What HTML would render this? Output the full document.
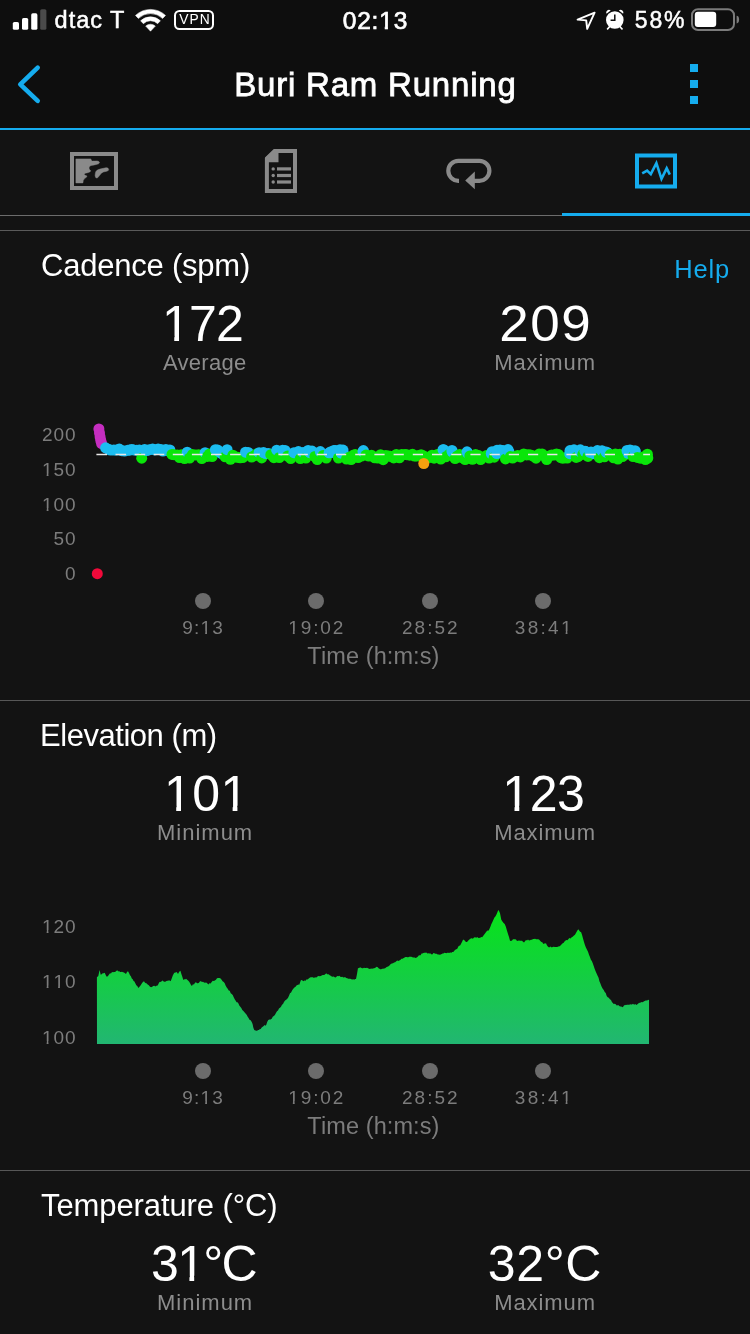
<!DOCTYPE html>
<html><head><meta charset="utf-8"><title>Buri Ram Running</title>
<style>
*{margin:0;padding:0;box-sizing:border-box}
html,body{width:750px;height:1334px;overflow:hidden;background:#131313;font-family:"Liberation Sans", sans-serif;-webkit-font-smoothing:antialiased}
body{position:relative}
#r{position:absolute;left:0;top:0;width:750px;height:1334px;will-change:transform}
</style></head><body>
<div id="r"><div style="position:absolute;left:0px;top:0px;width:750px;height:128px;background:#0e0e0e;"></div><div style="position:absolute;left:0px;top:128px;width:750px;height:2px;background:#15acee;"></div><div style="position:absolute;left:0px;top:130px;width:750px;height:1204px;background:#131313;"></div><svg style="position:absolute;left:0;top:0" width="750" height="130" viewBox="0 0 750 130"><rect x="12.8" y="22" width="6.2" height="7.800000000000001" rx="1.6" fill="#fff"/><rect x="22" y="18" width="6.2" height="11.8" rx="1.6" fill="#fff"/><rect x="31.2" y="13.3" width="6.2" height="16.5" rx="1.6" fill="#fff"/><rect x="40.2" y="9.2" width="6.2" height="20.6" rx="1.6" fill="#4a4a4a"/><path d="M135.49,15.39 A21.8,21.8 0 0 1 165.51,15.39 L162.62,18.43 A17.6,17.6 0 0 0 138.38,18.43 Z M140.59,20.75 A14.4,14.4 0 0 1 160.41,20.75 L157.66,23.66 A10.4,10.4 0 0 0 143.34,23.66 Z M150.5,31.2 L145.68,26.12 A7.0,7.0 0 0 1 155.32,26.12 Z" fill="#fff" stroke="#fff" stroke-width="0.5" stroke-linejoin="round"/><rect x="175" y="11" width="38" height="18" rx="4.5" fill="none" stroke="#fff" stroke-width="2"/><path d="M594.6,12.6 L577.6,19.6 L586.2,20.4 L587.2,28.8 Z" fill="none" stroke="#fff" stroke-width="1.9" stroke-linejoin="round"/><circle cx="614.8" cy="20" r="8.8" fill="#fff"/><path d="M606.49,13.81 A2.75,2.75 0 0 1 610.73,10.47 Z M623.11,13.81 A2.75,2.75 0 0 0 618.87,10.47 Z" fill="#fff"/><path d="M609.4,27 L607.6,28.8 M620.2,27 L622,28.8" stroke="#fff" stroke-width="1.7" stroke-linecap="round"/><path d="M614.8,14.6 L614.8,20.2 L610.6,20.2" fill="none" stroke="#0e0e0e" stroke-width="1.5"/><rect x="692" y="9.2" width="42" height="20.8" rx="6" fill="none" stroke="#7b7b7b" stroke-width="2"/><rect x="694.8" y="11.8" width="21.4" height="15.2" rx="3" fill="#fff"/><path d="M736.6,15.8 A2.5,3.8 0 0 1 736.6,23.4 Z" fill="#7b7b7b"/><path d="M37.7,67.6 L20.3,84.3 L37.7,100.8" fill="none" stroke="#15acee" stroke-width="4.6" stroke-linecap="round" stroke-linejoin="round"/><rect x="690" y="64" width="8" height="8" fill="#15acee"/><rect x="690" y="80" width="8" height="8" fill="#15acee"/><rect x="690" y="96" width="8" height="8" fill="#15acee"/></svg><div style="position:absolute;left:54.60px;top:8.91px;font-size:23.5px;line-height:23.5px;font-weight:400;color:#fff;letter-spacing:1.0px;-webkit-text-stroke:0.5px #fff;white-space:nowrap">dtac T</div><div style="position:absolute;left:-5.50px;top:13.22px;width:400px;text-align:center;font-size:13.8px;line-height:13.8px;font-weight:400;color:#fff;letter-spacing:1.0px;text-indent:1.0px;white-space:nowrap">VPN</div><div style="position:absolute;left:175.00px;top:8.86px;width:400px;text-align:center;font-size:24.5px;line-height:24.5px;font-weight:400;color:#fff;letter-spacing:0.8px;text-indent:0.8px;-webkit-text-stroke:0.7px #fff;white-space:nowrap">02:<span style="display:inline-block;letter-spacing:0;text-indent:0;margin-right:0.8px;clip-path:polygon(-20px 0,33.63px 0,33.63px 16.76px,8.76px 16.76px,8.76px 29.50px,5.58px 29.50px,5.58px 16.76px,-20px 16.76px)">1</span>3</div><div style="position:absolute;left:634.70px;top:8.93px;font-size:23px;line-height:23px;font-weight:400;color:#fff;letter-spacing:1.9px;-webkit-text-stroke:0.5px #fff;white-space:nowrap">58%</div><div style="position:absolute;left:175.00px;top:68.07px;width:400px;text-align:center;font-size:33px;line-height:33px;font-weight:400;color:#fff;letter-spacing:0.8px;text-indent:0.8px;-webkit-text-stroke:0.8px #fff;white-space:nowrap">Buri Ram Running</div><svg style="position:absolute;left:0;top:0" width="750" height="230" viewBox="0 0 750 230"><rect x="72" y="154" width="44" height="34" fill="none" stroke="#8a8a8a" stroke-width="4"/><path d="M75.9,158.9 L90.8,158.9 L91.3,160.2 L92.3,161.1 L94.4,161.1 L97.2,161 L98.8,161.5 L99.5,162.5 L98.9,163.6 L97.8,164.1 L94.4,164.9 L91,165.5 L89.5,166.5 L88.9,168 L89.5,169.6 L90.6,170.6 L90.2,171.7 L87.7,172.7 L85.3,173.2 L84.1,174.2 L85,175.3 L86.9,175.9 L86.6,177.1 L84.6,178.6 L83.3,180.3 L82.9,182.9 L75.9,182.9 Z M95.1,175.9 L95.3,173.6 L95.9,171.6 L97.3,170.1 L100,169.1 L103.4,168.3 L106.2,167.7 L107.9,168.1 L108.7,169.4 L108.2,170.6 L106.7,171.2 L103.4,172 L101.2,173.3 L99.5,175.6 L97.6,177.8 L96,177.9 Z" fill="#8a8a8a" stroke="#8a8a8a" stroke-width="0.5" stroke-linejoin="round"/><path d="M266.9,158.5 L274.6,151 L295,151 L295,191 L266.9,191 Z" fill="none" stroke="#8a8a8a" stroke-width="4" stroke-linejoin="miter"/><path d="M265,158 L275,149 L278.5,149 L278.5,162.3 L265,162.3 Z" fill="#8a8a8a"/><circle cx="273.2" cy="168.9" r="1.7" fill="#8a8a8a"/><rect x="277" y="167.3" width="14" height="3.2" fill="#8a8a8a"/><circle cx="273.2" cy="175.5" r="1.7" fill="#8a8a8a"/><rect x="277" y="173.9" width="14" height="3.2" fill="#8a8a8a"/><circle cx="273.2" cy="182" r="1.7" fill="#8a8a8a"/><rect x="277" y="180.4" width="14" height="3.2" fill="#8a8a8a"/><path d="M459,180.8 L458.3,180.8 A10,10 0 0 1 458.3,160.8 L479.4,160.8 A10,10 0 0 1 479.4,180.8 L473,180.8" fill="none" stroke="#8a8a8a" stroke-width="4.2"/><path d="M465.2,180.6 L474.8,171.6 L474.8,189.2 Z" fill="#8a8a8a"/><rect x="637" y="155.5" width="38" height="31" fill="none" stroke="#15acee" stroke-width="4"/><path d="M642.2,173.4 L647.1,170.6 L650.8,174.2 L656.4,163.2 L661.5,178.8 L666.7,168.3 L669.8,174.6" fill="none" stroke="#15acee" stroke-width="2.6" stroke-linejoin="miter" stroke-miterlimit="4"/></svg><div style="position:absolute;left:0px;top:215px;width:562px;height:1px;background:#6c6c6c;"></div><div style="position:absolute;left:562px;top:213px;width:188px;height:3px;background:#15acee;"></div><div style="position:absolute;left:0px;top:230px;width:750px;height:1px;background:#5a5a5a;"></div><div style="position:absolute;left:0px;top:700px;width:750px;height:1px;background:#575757;"></div><div style="position:absolute;left:0px;top:1170px;width:750px;height:1px;background:#575757;"></div><div style="position:absolute;left:41.00px;top:250.16px;font-size:31px;line-height:31px;font-weight:400;color:#fff;letter-spacing:-0.22px;white-space:nowrap">Cadence (spm)</div><div style="position:absolute;left:674.30px;top:257.31px;font-size:25.5px;line-height:25.5px;font-weight:400;color:#15acee;letter-spacing:0.8px;white-space:nowrap">Help</div><div style="position:absolute;left:2.95px;top:299.18px;width:400px;text-align:center;font-size:50px;line-height:50px;font-weight:400;color:#fff;letter-spacing:-0.8px;text-indent:-0.8px;white-space:nowrap"><span style="display:inline-block;letter-spacing:0;text-indent:0;margin-right:-0.8px;clip-path:polygon(-20px 0,47.81px 0,47.81px 36.70px,17.02px 36.70px,17.02px 55.00px,12.24px 55.00px,12.24px 36.70px,-20px 36.70px)">1</span>72</div><div style="position:absolute;left:344.60px;top:299.18px;width:400px;text-align:center;font-size:50px;line-height:50px;font-weight:400;color:#fff;letter-spacing:1.4px;text-indent:1.4px;transform:scaleX(1.06);transform-origin:200.0px 0;white-space:nowrap">209</div><div style="position:absolute;left:4.60px;top:352.38px;width:400px;text-align:center;font-size:22px;line-height:22px;font-weight:400;color:#8d8d8d;letter-spacing:0.3px;text-indent:0.3px;white-space:nowrap">Average</div><div style="position:absolute;left:344.60px;top:352.38px;width:400px;text-align:center;font-size:22px;line-height:22px;font-weight:400;color:#8d8d8d;letter-spacing:0.9px;text-indent:0.9px;white-space:nowrap">Maximum</div><div style="position:absolute;left:195.0px;top:592.9px;width:16.2px;height:16.2px;border-radius:50%;background:#6b6b6b"></div><div style="position:absolute;left:2.60px;top:617.92px;width:400px;text-align:center;font-size:19px;line-height:19px;font-weight:400;color:#7c7c7c;letter-spacing:1.2px;text-indent:1.2px;white-space:nowrap">9:<span style="display:inline-block;letter-spacing:0;text-indent:0;margin-right:1.2px;clip-path:polygon(-20px 0,30.57px 0,30.57px 13.45px,6.47px 13.45px,6.47px 24.00px,4.65px 24.00px,4.65px 13.45px,-20px 13.45px)">1</span>3</div><div style="position:absolute;left:308.2px;top:592.9px;width:16.2px;height:16.2px;border-radius:50%;background:#6b6b6b"></div><div style="position:absolute;left:115.80px;top:617.92px;width:400px;text-align:center;font-size:19px;line-height:19px;font-weight:400;color:#7c7c7c;letter-spacing:1.9px;text-indent:1.9px;white-space:nowrap"><span style="display:inline-block;letter-spacing:0;text-indent:0;margin-right:1.9px;clip-path:polygon(-20px 0,30.57px 0,30.57px 13.45px,6.47px 13.45px,6.47px 24.00px,4.65px 24.00px,4.65px 13.45px,-20px 13.45px)">1</span>9:02</div><div style="position:absolute;left:421.7px;top:592.9px;width:16.2px;height:16.2px;border-radius:50%;background:#6b6b6b"></div><div style="position:absolute;left:229.80px;top:617.92px;width:400px;text-align:center;font-size:19px;line-height:19px;font-weight:400;color:#7c7c7c;letter-spacing:2.0px;text-indent:2.0px;white-space:nowrap">28:52</div><div style="position:absolute;left:535.1px;top:592.9px;width:16.2px;height:16.2px;border-radius:50%;background:#6b6b6b"></div><div style="position:absolute;left:343.20px;top:617.92px;width:400px;text-align:center;font-size:19px;line-height:19px;font-weight:400;color:#7c7c7c;letter-spacing:2.3px;text-indent:2.3px;white-space:nowrap">38:4<span style="display:inline-block;letter-spacing:0;text-indent:0;margin-right:2.3px;clip-path:polygon(-20px 0,30.57px 0,30.57px 13.45px,6.47px 13.45px,6.47px 24.00px,4.65px 24.00px,4.65px 13.45px,-20px 13.45px)">1</span></div><div style="position:absolute;left:173.40px;top:644.91px;width:400px;text-align:center;font-size:23.5px;line-height:23.5px;font-weight:400;color:#7c7c7c;letter-spacing:0.1px;text-indent:0.1px;white-space:nowrap">Time (h:m:s)</div><div style="position:absolute;right:673.60px;top:424.92px;font-size:19px;line-height:19px;font-weight:400;color:#7c7c7c;letter-spacing:0.9px;white-space:nowrap;text-align:right">200</div><div style="position:absolute;right:673.60px;top:460.22px;font-size:19px;line-height:19px;font-weight:400;color:#7c7c7c;letter-spacing:0.9px;white-space:nowrap;text-align:right"><span style="display:inline-block;letter-spacing:0;text-indent:0;margin-right:0.9px;clip-path:polygon(-20px 0,30.57px 0,30.57px 13.45px,6.47px 13.45px,6.47px 24.00px,4.65px 24.00px,4.65px 13.45px,-20px 13.45px)">1</span>50</div><div style="position:absolute;right:673.60px;top:494.92px;font-size:19px;line-height:19px;font-weight:400;color:#7c7c7c;letter-spacing:0.9px;white-space:nowrap;text-align:right"><span style="display:inline-block;letter-spacing:0;text-indent:0;margin-right:0.9px;clip-path:polygon(-20px 0,30.57px 0,30.57px 13.45px,6.47px 13.45px,6.47px 24.00px,4.65px 24.00px,4.65px 13.45px,-20px 13.45px)">1</span>00</div><div style="position:absolute;right:673.60px;top:529.12px;font-size:19px;line-height:19px;font-weight:400;color:#7c7c7c;letter-spacing:0.9px;white-space:nowrap;text-align:right">50</div><div style="position:absolute;right:673.60px;top:564.22px;font-size:19px;line-height:19px;font-weight:400;color:#7c7c7c;letter-spacing:0.9px;white-space:nowrap;text-align:right">0</div><div style="position:absolute;left:40.10px;top:720.16px;font-size:31px;line-height:31px;font-weight:400;color:#fff;letter-spacing:-0.47px;white-space:nowrap">Elevation (m)</div><div style="position:absolute;left:6.10px;top:769.17px;width:400px;text-align:center;font-size:50px;line-height:50px;font-weight:400;color:#fff;letter-spacing:0.4px;text-indent:0.4px;white-space:nowrap"><span style="display:inline-block;letter-spacing:0;text-indent:0;margin-right:0.4px;clip-path:polygon(-20px 0,47.81px 0,47.81px 36.70px,17.02px 36.70px,17.02px 55.00px,12.24px 55.00px,12.24px 36.70px,-20px 36.70px)">1</span>0<span style="display:inline-block;letter-spacing:0;text-indent:0;margin-right:0.4px;clip-path:polygon(-20px 0,47.81px 0,47.81px 36.70px,17.02px 36.70px,17.02px 55.00px,12.24px 55.00px,12.24px 36.70px,-20px 36.70px)">1</span></div><div style="position:absolute;left:343.60px;top:769.17px;width:400px;text-align:center;font-size:50px;line-height:50px;font-weight:400;color:#fff;letter-spacing:-0.4px;text-indent:-0.4px;white-space:nowrap"><span style="display:inline-block;letter-spacing:0;text-indent:0;margin-right:-0.4px;clip-path:polygon(-20px 0,47.81px 0,47.81px 36.70px,17.02px 36.70px,17.02px 55.00px,12.24px 55.00px,12.24px 36.70px,-20px 36.70px)">1</span>23</div><div style="position:absolute;left:4.60px;top:822.38px;width:400px;text-align:center;font-size:22px;line-height:22px;font-weight:400;color:#8d8d8d;letter-spacing:1.0px;text-indent:1.0px;white-space:nowrap">Minimum</div><div style="position:absolute;left:344.60px;top:822.38px;width:400px;text-align:center;font-size:22px;line-height:22px;font-weight:400;color:#8d8d8d;letter-spacing:0.9px;text-indent:0.9px;white-space:nowrap">Maximum</div><div style="position:absolute;left:195.0px;top:1062.9px;width:16.2px;height:16.2px;border-radius:50%;background:#6b6b6b"></div><div style="position:absolute;left:2.60px;top:1087.92px;width:400px;text-align:center;font-size:19px;line-height:19px;font-weight:400;color:#7c7c7c;letter-spacing:1.2px;text-indent:1.2px;white-space:nowrap">9:<span style="display:inline-block;letter-spacing:0;text-indent:0;margin-right:1.2px;clip-path:polygon(-20px 0,30.57px 0,30.57px 13.45px,6.47px 13.45px,6.47px 24.00px,4.65px 24.00px,4.65px 13.45px,-20px 13.45px)">1</span>3</div><div style="position:absolute;left:308.2px;top:1062.9px;width:16.2px;height:16.2px;border-radius:50%;background:#6b6b6b"></div><div style="position:absolute;left:115.80px;top:1087.92px;width:400px;text-align:center;font-size:19px;line-height:19px;font-weight:400;color:#7c7c7c;letter-spacing:1.9px;text-indent:1.9px;white-space:nowrap"><span style="display:inline-block;letter-spacing:0;text-indent:0;margin-right:1.9px;clip-path:polygon(-20px 0,30.57px 0,30.57px 13.45px,6.47px 13.45px,6.47px 24.00px,4.65px 24.00px,4.65px 13.45px,-20px 13.45px)">1</span>9:02</div><div style="position:absolute;left:421.7px;top:1062.9px;width:16.2px;height:16.2px;border-radius:50%;background:#6b6b6b"></div><div style="position:absolute;left:229.80px;top:1087.92px;width:400px;text-align:center;font-size:19px;line-height:19px;font-weight:400;color:#7c7c7c;letter-spacing:2.0px;text-indent:2.0px;white-space:nowrap">28:52</div><div style="position:absolute;left:535.1px;top:1062.9px;width:16.2px;height:16.2px;border-radius:50%;background:#6b6b6b"></div><div style="position:absolute;left:343.20px;top:1087.92px;width:400px;text-align:center;font-size:19px;line-height:19px;font-weight:400;color:#7c7c7c;letter-spacing:2.3px;text-indent:2.3px;white-space:nowrap">38:4<span style="display:inline-block;letter-spacing:0;text-indent:0;margin-right:2.3px;clip-path:polygon(-20px 0,30.57px 0,30.57px 13.45px,6.47px 13.45px,6.47px 24.00px,4.65px 24.00px,4.65px 13.45px,-20px 13.45px)">1</span></div><div style="position:absolute;left:173.40px;top:1114.91px;width:400px;text-align:center;font-size:23.5px;line-height:23.5px;font-weight:400;color:#7c7c7c;letter-spacing:0.1px;text-indent:0.1px;white-space:nowrap">Time (h:m:s)</div><div style="position:absolute;right:673.60px;top:916.92px;font-size:19px;line-height:19px;font-weight:400;color:#7c7c7c;letter-spacing:0.9px;white-space:nowrap;text-align:right"><span style="display:inline-block;letter-spacing:0;text-indent:0;margin-right:0.9px;clip-path:polygon(-20px 0,30.57px 0,30.57px 13.45px,6.47px 13.45px,6.47px 24.00px,4.65px 24.00px,4.65px 13.45px,-20px 13.45px)">1</span>20</div><div style="position:absolute;right:673.60px;top:972.32px;font-size:19px;line-height:19px;font-weight:400;color:#7c7c7c;letter-spacing:0.9px;white-space:nowrap;text-align:right"><span style="display:inline-block;letter-spacing:0;text-indent:0;margin-right:0.9px;clip-path:polygon(-20px 0,30.57px 0,30.57px 13.45px,6.47px 13.45px,6.47px 24.00px,4.65px 24.00px,4.65px 13.45px,-20px 13.45px)">1</span><span style="display:inline-block;letter-spacing:0;text-indent:0;margin-right:0.9px;clip-path:polygon(-20px 0,30.57px 0,30.57px 13.45px,6.47px 13.45px,6.47px 24.00px,4.65px 24.00px,4.65px 13.45px,-20px 13.45px)">1</span>0</div><div style="position:absolute;right:673.60px;top:1027.92px;font-size:19px;line-height:19px;font-weight:400;color:#7c7c7c;letter-spacing:0.9px;white-space:nowrap;text-align:right"><span style="display:inline-block;letter-spacing:0;text-indent:0;margin-right:0.9px;clip-path:polygon(-20px 0,30.57px 0,30.57px 13.45px,6.47px 13.45px,6.47px 24.00px,4.65px 24.00px,4.65px 13.45px,-20px 13.45px)">1</span>00</div><div style="position:absolute;left:41.00px;top:1190.16px;font-size:31px;line-height:31px;font-weight:400;color:#fff;letter-spacing:-0.1px;white-space:nowrap">Temperature (°C)</div><div style="position:absolute;left:4.40px;top:1239.17px;width:400px;text-align:center;font-size:50px;line-height:50px;font-weight:400;color:#fff;letter-spacing:-1.7px;text-indent:-1.7px;white-space:nowrap">3<span style="display:inline-block;letter-spacing:0;text-indent:0;margin-right:-1.7px;clip-path:polygon(-20px 0,47.81px 0,47.81px 36.70px,17.02px 36.70px,17.02px 55.00px,12.24px 55.00px,12.24px 36.70px,-20px 36.70px)">1</span>°C</div><div style="position:absolute;left:344.60px;top:1239.17px;width:400px;text-align:center;font-size:50px;line-height:50px;font-weight:400;color:#fff;letter-spacing:0.6px;text-indent:0.6px;white-space:nowrap">32°C</div><div style="position:absolute;left:4.60px;top:1292.38px;width:400px;text-align:center;font-size:22px;line-height:22px;font-weight:400;color:#8d8d8d;letter-spacing:1.0px;text-indent:1.0px;white-space:nowrap">Minimum</div><div style="position:absolute;left:344.60px;top:1292.38px;width:400px;text-align:center;font-size:22px;line-height:22px;font-weight:400;color:#8d8d8d;letter-spacing:0.9px;text-indent:0.9px;white-space:nowrap">Maximum</div><svg style="position:absolute;left:0;top:0" width="750" height="700" viewBox="0 0 750 700"><circle cx="98.9" cy="429.0" r="5.5" fill="#c52ec0"/><circle cx="99.5" cy="433.0" r="5.5" fill="#c52ec0"/><circle cx="100.1" cy="437.0" r="5.5" fill="#c52ec0"/><circle cx="100.8" cy="440.5" r="5.5" fill="#c52ec0"/><circle cx="101.6" cy="443.5" r="5.5" fill="#c52ec0"/><circle cx="105.6" cy="447.8" r="5.5" fill="#1cbdf0"/><circle cx="108.2" cy="449.2" r="5.5" fill="#1cbdf0"/><circle cx="110.5" cy="450.1" r="5.5" fill="#1cbdf0"/><circle cx="113.8" cy="450.0" r="5.5" fill="#1cbdf0"/><circle cx="116.5" cy="450.0" r="5.5" fill="#1cbdf0"/><circle cx="119.3" cy="449.1" r="5.5" fill="#1cbdf0"/><circle cx="121.6" cy="450.7" r="5.5" fill="#1cbdf0"/><circle cx="124.5" cy="451.1" r="5.5" fill="#1cbdf0"/><circle cx="127.9" cy="450.3" r="5.5" fill="#1cbdf0"/><circle cx="129.9" cy="450.1" r="5.5" fill="#1cbdf0"/><circle cx="131.8" cy="449.4" r="5.5" fill="#1cbdf0"/><circle cx="133.7" cy="449.9" r="5.5" fill="#1cbdf0"/><circle cx="136.8" cy="450.3" r="5.5" fill="#1cbdf0"/><circle cx="139.4" cy="449.9" r="5.5" fill="#1cbdf0"/><circle cx="141.7" cy="458.2" r="5.5" fill="#0ae60a"/><circle cx="144.6" cy="449.4" r="5.5" fill="#1cbdf0"/><circle cx="146.8" cy="450.6" r="5.5" fill="#1cbdf0"/><circle cx="149.3" cy="449.8" r="5.5" fill="#1cbdf0"/><circle cx="152.6" cy="448.9" r="5.5" fill="#1cbdf0"/><circle cx="154.8" cy="449.9" r="5.5" fill="#1cbdf0"/><circle cx="158.1" cy="449.1" r="5.5" fill="#1cbdf0"/><circle cx="160.9" cy="449.5" r="5.5" fill="#1cbdf0"/><circle cx="162.9" cy="451.0" r="5.5" fill="#1cbdf0"/><circle cx="165.9" cy="449.4" r="5.5" fill="#1cbdf0"/><circle cx="167.8" cy="450.7" r="5.5" fill="#1cbdf0"/><circle cx="169.9" cy="449.9" r="5.5" fill="#1cbdf0"/><circle cx="172.0" cy="454.4" r="5.5" fill="#0ae60a"/><circle cx="174.0" cy="454.7" r="5.5" fill="#0ae60a"/><circle cx="177.4" cy="455.1" r="5.5" fill="#0ae60a"/><circle cx="179.5" cy="457.6" r="5.5" fill="#0ae60a"/><circle cx="181.5" cy="454.7" r="5.5" fill="#0ae60a"/><circle cx="184.5" cy="458.6" r="5.5" fill="#0ae60a"/><circle cx="187.2" cy="452.2" r="5.5" fill="#1cbdf0"/><circle cx="189.6" cy="458.0" r="5.5" fill="#0ae60a"/><circle cx="192.4" cy="454.6" r="5.5" fill="#0ae60a"/><circle cx="195.6" cy="454.9" r="5.5" fill="#0ae60a"/><circle cx="198.6" cy="454.7" r="5.5" fill="#0ae60a"/><circle cx="201.8" cy="458.5" r="5.5" fill="#0ae60a"/><circle cx="205.1" cy="452.7" r="5.5" fill="#1cbdf0"/><circle cx="207.4" cy="456.4" r="5.5" fill="#0ae60a"/><circle cx="209.4" cy="454.1" r="5.5" fill="#0ae60a"/><circle cx="212.1" cy="456.5" r="5.5" fill="#0ae60a"/><circle cx="215.4" cy="449.7" r="5.5" fill="#1cbdf0"/><circle cx="217.6" cy="449.9" r="5.5" fill="#1cbdf0"/><circle cx="219.7" cy="452.1" r="5.5" fill="#1cbdf0"/><circle cx="221.7" cy="453.5" r="5.5" fill="#1cbdf0"/><circle cx="225.1" cy="456.8" r="5.5" fill="#0ae60a"/><circle cx="227.1" cy="449.7" r="5.5" fill="#1cbdf0"/><circle cx="230.4" cy="459.3" r="5.5" fill="#0ae60a"/><circle cx="232.9" cy="455.2" r="5.5" fill="#0ae60a"/><circle cx="234.9" cy="457.0" r="5.5" fill="#0ae60a"/><circle cx="237.8" cy="457.3" r="5.5" fill="#0ae60a"/><circle cx="240.2" cy="457.8" r="5.5" fill="#0ae60a"/><circle cx="242.7" cy="457.6" r="5.5" fill="#0ae60a"/><circle cx="245.5" cy="452.2" r="5.5" fill="#1cbdf0"/><circle cx="248.2" cy="452.4" r="5.5" fill="#1cbdf0"/><circle cx="251.6" cy="457.0" r="5.5" fill="#0ae60a"/><circle cx="254.6" cy="455.7" r="5.5" fill="#0ae60a"/><circle cx="256.5" cy="453.9" r="5.5" fill="#0ae60a"/><circle cx="259.1" cy="452.7" r="5.5" fill="#1cbdf0"/><circle cx="261.7" cy="457.9" r="5.5" fill="#0ae60a"/><circle cx="263.5" cy="452.6" r="5.5" fill="#1cbdf0"/><circle cx="265.7" cy="453.6" r="5.5" fill="#1cbdf0"/><circle cx="268.5" cy="453.5" r="5.5" fill="#1cbdf0"/><circle cx="270.8" cy="454.7" r="5.5" fill="#0ae60a"/><circle cx="273.9" cy="457.7" r="5.5" fill="#0ae60a"/><circle cx="276.7" cy="450.2" r="5.5" fill="#1cbdf0"/><circle cx="279.3" cy="457.5" r="5.5" fill="#0ae60a"/><circle cx="282.6" cy="450.3" r="5.5" fill="#1cbdf0"/><circle cx="285.1" cy="450.5" r="5.5" fill="#1cbdf0"/><circle cx="287.6" cy="456.0" r="5.5" fill="#0ae60a"/><circle cx="290.7" cy="458.5" r="5.5" fill="#0ae60a"/><circle cx="293.9" cy="452.7" r="5.5" fill="#1cbdf0"/><circle cx="296.6" cy="453.1" r="5.5" fill="#1cbdf0"/><circle cx="298.4" cy="451.6" r="5.5" fill="#1cbdf0"/><circle cx="300.3" cy="458.6" r="5.5" fill="#0ae60a"/><circle cx="303.1" cy="452.4" r="5.5" fill="#1cbdf0"/><circle cx="305.9" cy="458.0" r="5.5" fill="#0ae60a"/><circle cx="308.1" cy="450.4" r="5.5" fill="#1cbdf0"/><circle cx="309.9" cy="452.7" r="5.5" fill="#1cbdf0"/><circle cx="312.0" cy="451.1" r="5.5" fill="#1cbdf0"/><circle cx="314.9" cy="456.5" r="5.5" fill="#0ae60a"/><circle cx="317.3" cy="459.6" r="5.5" fill="#0ae60a"/><circle cx="320.3" cy="451.6" r="5.5" fill="#1cbdf0"/><circle cx="323.1" cy="455.5" r="5.5" fill="#0ae60a"/><circle cx="326.3" cy="458.0" r="5.5" fill="#0ae60a"/><circle cx="329.1" cy="452.8" r="5.5" fill="#1cbdf0"/><circle cx="331.0" cy="451.7" r="5.5" fill="#1cbdf0"/><circle cx="332.2" cy="452.4" r="5.5" fill="#1cbdf0"/><circle cx="334.0" cy="450.4" r="5.5" fill="#1cbdf0"/><circle cx="335.2" cy="450.5" r="5.5" fill="#1cbdf0"/><circle cx="337.0" cy="452.0" r="5.5" fill="#1cbdf0"/><circle cx="338.4" cy="458.1" r="5.5" fill="#0ae60a"/><circle cx="340.0" cy="449.7" r="5.5" fill="#1cbdf0"/><circle cx="341.1" cy="453.1" r="5.5" fill="#1cbdf0"/><circle cx="343.0" cy="450.1" r="5.5" fill="#1cbdf0"/><circle cx="343.4" cy="453.6" r="5.5" fill="#1cbdf0"/><circle cx="346.5" cy="459.0" r="5.5" fill="#0ae60a"/><circle cx="349.2" cy="457.2" r="5.5" fill="#0ae60a"/><circle cx="351.1" cy="459.5" r="5.5" fill="#0ae60a"/><circle cx="353.1" cy="455.3" r="5.5" fill="#0ae60a"/><circle cx="355.2" cy="454.5" r="5.5" fill="#0ae60a"/><circle cx="358.1" cy="457.5" r="5.5" fill="#0ae60a"/><circle cx="361.4" cy="456.0" r="5.5" fill="#0ae60a"/><circle cx="363.0" cy="451.6" r="5.5" fill="#1cbdf0"/><circle cx="363.4" cy="450.6" r="5.5" fill="#1cbdf0"/><circle cx="366.0" cy="455.1" r="5.5" fill="#0ae60a"/><circle cx="368.8" cy="456.1" r="5.5" fill="#0ae60a"/><circle cx="371.5" cy="455.2" r="5.5" fill="#0ae60a"/><circle cx="374.7" cy="457.8" r="5.5" fill="#0ae60a"/><circle cx="377.9" cy="458.1" r="5.5" fill="#0ae60a"/><circle cx="380.6" cy="454.7" r="5.5" fill="#0ae60a"/><circle cx="383.2" cy="459.7" r="5.5" fill="#0ae60a"/><circle cx="385.8" cy="455.6" r="5.5" fill="#0ae60a"/><circle cx="388.5" cy="456.0" r="5.5" fill="#0ae60a"/><circle cx="390.4" cy="456.2" r="5.5" fill="#0ae60a"/><circle cx="393.7" cy="457.9" r="5.5" fill="#0ae60a"/><circle cx="396.3" cy="454.4" r="5.5" fill="#0ae60a"/><circle cx="399.4" cy="457.8" r="5.5" fill="#0ae60a"/><circle cx="401.7" cy="454.6" r="5.5" fill="#0ae60a"/><circle cx="405.0" cy="454.4" r="5.5" fill="#0ae60a"/><circle cx="406.8" cy="454.7" r="5.5" fill="#0ae60a"/><circle cx="409.7" cy="455.2" r="5.5" fill="#0ae60a"/><circle cx="412.5" cy="454.3" r="5.5" fill="#0ae60a"/><circle cx="414.5" cy="456.0" r="5.5" fill="#0ae60a"/><circle cx="416.6" cy="456.1" r="5.5" fill="#0ae60a"/><circle cx="419.0" cy="455.6" r="5.5" fill="#0ae60a"/><circle cx="421.1" cy="454.7" r="5.5" fill="#0ae60a"/><circle cx="423.9" cy="456.1" r="5.5" fill="#0ae60a"/><circle cx="426.7" cy="457.6" r="5.5" fill="#0ae60a"/><circle cx="429.7" cy="457.4" r="5.5" fill="#0ae60a"/><circle cx="432.0" cy="455.2" r="5.5" fill="#0ae60a"/><circle cx="434.1" cy="458.2" r="5.5" fill="#0ae60a"/><circle cx="436.1" cy="454.9" r="5.5" fill="#0ae60a"/><circle cx="438.4" cy="454.2" r="5.5" fill="#0ae60a"/><circle cx="440.8" cy="459.0" r="5.5" fill="#0ae60a"/><circle cx="443.0" cy="449.7" r="5.5" fill="#1cbdf0"/><circle cx="443.7" cy="449.7" r="5.5" fill="#1cbdf0"/><circle cx="445.8" cy="456.8" r="5.5" fill="#0ae60a"/><circle cx="449.2" cy="454.3" r="5.5" fill="#0ae60a"/><circle cx="452.0" cy="450.4" r="5.5" fill="#1cbdf0"/><circle cx="452.2" cy="451.8" r="5.5" fill="#1cbdf0"/><circle cx="455.1" cy="458.6" r="5.5" fill="#0ae60a"/><circle cx="457.0" cy="456.2" r="5.5" fill="#0ae60a"/><circle cx="459.7" cy="454.4" r="5.5" fill="#0ae60a"/><circle cx="461.8" cy="457.5" r="5.5" fill="#0ae60a"/><circle cx="465.1" cy="459.6" r="5.5" fill="#0ae60a"/><circle cx="467.0" cy="451.8" r="5.5" fill="#1cbdf0"/><circle cx="467.6" cy="453.0" r="5.5" fill="#1cbdf0"/><circle cx="469.9" cy="455.9" r="5.5" fill="#0ae60a"/><circle cx="472.4" cy="459.3" r="5.5" fill="#0ae60a"/><circle cx="475.6" cy="454.6" r="5.5" fill="#0ae60a"/><circle cx="478.6" cy="455.6" r="5.5" fill="#0ae60a"/><circle cx="480.6" cy="459.6" r="5.5" fill="#0ae60a"/><circle cx="483.7" cy="456.9" r="5.5" fill="#0ae60a"/><circle cx="486.5" cy="455.6" r="5.5" fill="#0ae60a"/><circle cx="489.1" cy="458.1" r="5.5" fill="#0ae60a"/><circle cx="491.3" cy="453.6" r="5.5" fill="#1cbdf0"/><circle cx="492.0" cy="451.7" r="5.5" fill="#1cbdf0"/><circle cx="494.3" cy="457.2" r="5.5" fill="#0ae60a"/><circle cx="496.8" cy="453.5" r="5.5" fill="#1cbdf0"/><circle cx="497.0" cy="450.3" r="5.5" fill="#1cbdf0"/><circle cx="500.0" cy="452.7" r="5.5" fill="#1cbdf0"/><circle cx="500.0" cy="449.9" r="5.5" fill="#1cbdf0"/><circle cx="503.0" cy="450.6" r="5.5" fill="#1cbdf0"/><circle cx="503.0" cy="453.0" r="5.5" fill="#1cbdf0"/><circle cx="505.5" cy="458.9" r="5.5" fill="#0ae60a"/><circle cx="508.0" cy="449.6" r="5.5" fill="#1cbdf0"/><circle cx="509.0" cy="451.8" r="5.5" fill="#1cbdf0"/><circle cx="510.4" cy="456.6" r="5.5" fill="#0ae60a"/><circle cx="512.6" cy="458.0" r="5.5" fill="#0ae60a"/><circle cx="514.9" cy="456.7" r="5.5" fill="#0ae60a"/><circle cx="517.6" cy="455.5" r="5.5" fill="#0ae60a"/><circle cx="520.4" cy="456.9" r="5.5" fill="#0ae60a"/><circle cx="523.7" cy="453.9" r="5.5" fill="#0ae60a"/><circle cx="526.7" cy="454.9" r="5.5" fill="#0ae60a"/><circle cx="528.6" cy="454.7" r="5.5" fill="#0ae60a"/><circle cx="530.6" cy="454.9" r="5.5" fill="#0ae60a"/><circle cx="533.2" cy="456.0" r="5.5" fill="#0ae60a"/><circle cx="536.0" cy="458.2" r="5.5" fill="#0ae60a"/><circle cx="539.1" cy="454.1" r="5.5" fill="#0ae60a"/><circle cx="542.1" cy="454.0" r="5.5" fill="#0ae60a"/><circle cx="544.1" cy="455.9" r="5.5" fill="#0ae60a"/><circle cx="546.7" cy="459.6" r="5.5" fill="#0ae60a"/><circle cx="549.2" cy="456.1" r="5.5" fill="#0ae60a"/><circle cx="551.6" cy="455.1" r="5.5" fill="#0ae60a"/><circle cx="554.3" cy="455.0" r="5.5" fill="#0ae60a"/><circle cx="556.5" cy="453.9" r="5.5" fill="#0ae60a"/><circle cx="558.4" cy="454.5" r="5.5" fill="#0ae60a"/><circle cx="560.8" cy="457.7" r="5.5" fill="#0ae60a"/><circle cx="562.7" cy="458.2" r="5.5" fill="#0ae60a"/><circle cx="564.6" cy="457.8" r="5.5" fill="#0ae60a"/><circle cx="567.2" cy="458.1" r="5.5" fill="#0ae60a"/><circle cx="569.8" cy="453.7" r="5.5" fill="#1cbdf0"/><circle cx="570.0" cy="450.6" r="5.5" fill="#1cbdf0"/><circle cx="572.8" cy="451.7" r="5.5" fill="#1cbdf0"/><circle cx="574.0" cy="449.8" r="5.5" fill="#1cbdf0"/><circle cx="576.2" cy="457.4" r="5.5" fill="#0ae60a"/><circle cx="578.1" cy="456.5" r="5.5" fill="#0ae60a"/><circle cx="580.0" cy="451.7" r="5.5" fill="#1cbdf0"/><circle cx="580.3" cy="449.8" r="5.5" fill="#1cbdf0"/><circle cx="582.9" cy="454.3" r="5.5" fill="#0ae60a"/><circle cx="585.0" cy="451.3" r="5.5" fill="#1cbdf0"/><circle cx="585.8" cy="451.6" r="5.5" fill="#1cbdf0"/><circle cx="588.0" cy="456.4" r="5.5" fill="#0ae60a"/><circle cx="590.0" cy="452.4" r="5.5" fill="#1cbdf0"/><circle cx="591.0" cy="451.9" r="5.5" fill="#1cbdf0"/><circle cx="594.0" cy="452.5" r="5.5" fill="#1cbdf0"/><circle cx="594.4" cy="453.8" r="5.5" fill="#1cbdf0"/><circle cx="597.4" cy="450.6" r="5.5" fill="#1cbdf0"/><circle cx="598.0" cy="452.4" r="5.5" fill="#1cbdf0"/><circle cx="599.4" cy="457.7" r="5.5" fill="#0ae60a"/><circle cx="602.0" cy="450.8" r="5.5" fill="#1cbdf0"/><circle cx="602.2" cy="451.2" r="5.5" fill="#1cbdf0"/><circle cx="604.4" cy="456.8" r="5.5" fill="#0ae60a"/><circle cx="606.0" cy="452.1" r="5.5" fill="#1cbdf0"/><circle cx="607.2" cy="452.4" r="5.5" fill="#1cbdf0"/><circle cx="610.2" cy="454.6" r="5.5" fill="#0ae60a"/><circle cx="613.6" cy="457.8" r="5.5" fill="#0ae60a"/><circle cx="615.4" cy="454.1" r="5.5" fill="#0ae60a"/><circle cx="617.9" cy="459.1" r="5.5" fill="#0ae60a"/><circle cx="619.8" cy="454.2" r="5.5" fill="#0ae60a"/><circle cx="622.5" cy="456.6" r="5.5" fill="#0ae60a"/><circle cx="625.1" cy="454.7" r="5.5" fill="#0ae60a"/><circle cx="627.0" cy="450.4" r="5.5" fill="#1cbdf0"/><circle cx="628.1" cy="453.3" r="5.5" fill="#1cbdf0"/><circle cx="630.0" cy="450.1" r="5.5" fill="#1cbdf0"/><circle cx="631.0" cy="450.4" r="5.5" fill="#1cbdf0"/><circle cx="633.1" cy="456.5" r="5.5" fill="#0ae60a"/><circle cx="635.0" cy="450.7" r="5.5" fill="#1cbdf0"/><circle cx="635.2" cy="451.5" r="5.5" fill="#1cbdf0"/><circle cx="637.4" cy="457.4" r="5.5" fill="#0ae60a"/><circle cx="640.3" cy="458.2" r="5.5" fill="#0ae60a"/><circle cx="642.9" cy="457.1" r="5.5" fill="#0ae60a"/><circle cx="645.4" cy="459.6" r="5.5" fill="#0ae60a"/><circle cx="647.4" cy="454.2" r="5.5" fill="#0ae60a"/><circle cx="647.8" cy="458.0" r="5.5" fill="#0ae60a"/><circle cx="423.8" cy="463.5" r="5.5" fill="#f5a00f"/><circle cx="97.3" cy="573.7" r="5.5" fill="#f2093a"/><line x1="96.4" y1="454.4" x2="260.4" y2="454.4" stroke="#e8e8e8" stroke-width="1.5" stroke-dasharray="10.6 8.5"/><line x1="278.4" y1="454.4" x2="650" y2="454.4" stroke="#e8e8e8" stroke-width="1.5" stroke-dasharray="10.2 9"/></svg><svg style="position:absolute;left:0;top:880" width="750" height="180" viewBox="0 880 750 180"><defs><linearGradient id="eg" x1="0" y1="905" x2="0" y2="1044" gradientUnits="userSpaceOnUse"><stop offset="0" stop-color="#05e615"/><stop offset="0.45" stop-color="#12d13c"/><stop offset="1" stop-color="#22b672"/></linearGradient></defs><path d="M97,1044 L96.90,977.30 L98.30,976.00 L99.60,970.00 L100.70,974.70 L101.70,974.17 L102.70,973.30 L103.70,973.34 L104.70,972.70 L105.70,975.11 L106.70,976.70 L107.80,976.19 L108.90,974.77 L110.00,973.30 L111.00,973.57 L112.00,971.99 L113.00,972.28 L114.00,972.00 L115.10,972.05 L116.20,971.08 L117.30,970.30 L118.20,971.43 L119.10,970.89 L120.00,972.00 L121.00,972.06 L122.00,971.85 L123.00,972.36 L124.00,972.40 L125.00,973.30 L126.00,974.00 L127.00,971.97 L128.00,971.30 L129.00,972.90 L130.00,975.30 L130.90,976.32 L131.80,978.55 L132.70,979.30 L133.57,981.01 L134.43,981.49 L135.30,983.30 L136.30,985.28 L137.30,985.93 L138.30,988.00 L139.50,986.81 L140.70,985.30 L141.80,983.44 L142.90,981.94 L144.00,981.30 L145.00,982.82 L146.00,983.30 L146.80,983.44 L147.60,984.40 L148.80,985.15 L150.00,986.70 L151.10,987.14 L152.20,986.75 L153.30,986.00 L154.30,985.63 L155.30,986.50 L156.30,985.83 L157.30,985.70 L158.20,984.62 L159.10,982.62 L160.00,981.70 L160.90,981.88 L161.80,981.10 L162.70,980.40 L163.57,981.49 L164.43,981.82 L165.30,981.70 L166.43,980.98 L167.57,980.64 L168.70,980.40 L169.70,980.38 L170.70,981.30 L171.80,978.14 L172.90,975.36 L174.00,973.30 L174.90,972.59 L175.80,972.58 L176.70,972.00 L178.00,974.00 L179.20,971.65 L180.40,970.70 L181.37,974.05 L182.33,976.67 L183.30,980.00 L184.20,979.30 L185.10,979.58 L186.00,978.70 L187.15,979.67 L188.30,980.70 L189.20,981.77 L190.10,983.32 L191.00,984.96 L191.90,986.00 L192.93,984.28 L193.97,984.47 L195.00,982.70 L196.00,982.33 L197.00,983.30 L198.00,983.15 L199.00,982.78 L200.00,981.13 L201.00,981.30 L202.00,982.05 L203.00,981.81 L204.00,982.46 L205.00,982.70 L206.10,982.58 L207.20,983.20 L208.30,984.40 L209.43,983.15 L210.57,983.44 L211.70,982.00 L212.76,980.84 L213.82,980.88 L214.88,980.38 L215.94,979.66 L217.00,978.30 L218.10,978.08 L219.20,978.10 L220.30,978.30 L221.43,979.57 L222.57,981.15 L223.70,982.00 L224.70,983.13 L225.70,985.70 L226.70,987.44 L227.70,988.70 L228.70,990.53 L229.70,990.70 L230.70,993.30 L231.70,994.00 L232.70,995.10 L233.70,997.13 L234.70,999.18 L235.70,1000.70 L236.57,1002.15 L237.43,1002.21 L238.30,1003.30 L239.30,1005.57 L240.30,1006.71 L241.30,1008.06 L242.30,1010.00 L243.38,1011.08 L244.46,1012.23 L245.54,1013.43 L246.62,1014.87 L247.70,1016.70 L248.70,1018.29 L249.70,1020.05 L250.70,1020.20 L251.70,1022.00 L252.57,1024.03 L253.43,1028.01 L254.30,1030.00 L255.20,1030.38 L256.10,1030.53 L257.00,1031.00 L257.90,1030.07 L258.80,1030.00 L259.70,1029.30 L260.70,1028.93 L261.70,1027.59 L262.70,1026.72 L263.70,1026.00 L264.57,1024.94 L265.43,1025.72 L266.30,1024.70 L267.30,1021.70 L268.30,1020.00 L269.43,1019.56 L270.57,1019.61 L271.70,1018.70 L272.76,1016.70 L273.82,1016.06 L274.88,1014.89 L275.94,1012.96 L277.00,1011.30 L278.00,1010.55 L279.00,1008.45 L280.00,1007.76 L281.00,1006.70 L282.00,1004.64 L283.00,1004.05 L284.00,1002.00 L285.10,1000.61 L286.20,999.73 L287.30,998.70 L288.20,997.60 L289.10,995.59 L290.00,993.30 L291.10,992.43 L292.20,990.17 L293.30,988.70 L294.43,987.55 L295.57,986.75 L296.70,985.30 L297.57,985.07 L298.43,984.61 L299.30,984.70 L300.15,982.22 L301.00,980.00 L302.15,980.16 L303.30,981.30 L304.43,980.46 L305.57,980.65 L306.70,979.30 L307.70,979.44 L308.70,978.48 L309.70,977.80 L310.70,977.30 L311.80,977.31 L312.90,977.19 L314.00,978.00 L314.94,977.28 L315.88,977.59 L316.82,977.31 L317.76,976.21 L318.70,976.00 L319.70,976.15 L320.70,975.88 L321.70,975.52 L322.70,975.00 L323.70,974.88 L324.70,974.66 L325.70,973.76 L326.70,973.60 L327.70,974.41 L328.70,974.34 L329.70,975.15 L330.70,975.70 L331.70,976.48 L332.70,976.77 L333.70,976.61 L334.70,977.30 L335.57,977.49 L336.43,976.64 L337.30,976.00 L338.30,976.36 L339.30,975.82 L340.30,976.82 L341.30,977.00 L342.30,976.73 L343.30,977.39 L344.30,977.17 L345.30,977.30 L346.30,978.09 L347.30,978.21 L348.30,978.77 L349.30,978.70 L350.30,978.64 L351.30,979.20 L352.30,979.48 L353.30,979.30 L354.20,979.66 L355.10,978.89 L356.00,979.00 L357.00,973.98 L358.00,968.00 L359.00,968.17 L360.00,967.30 L361.00,967.66 L362.00,968.17 L363.00,968.24 L364.00,967.70 L365.00,967.88 L366.00,968.04 L367.00,967.68 L368.00,968.30 L369.00,968.87 L370.00,969.11 L371.00,968.57 L372.00,968.70 L373.00,968.62 L374.00,968.31 L375.00,967.97 L376.00,967.30 L376.85,966.84 L377.70,967.30 L378.57,968.36 L379.43,968.75 L380.30,969.30 L381.20,969.33 L382.10,968.79 L383.00,968.70 L384.10,968.41 L385.20,968.15 L386.30,967.30 L387.43,966.82 L388.57,966.28 L389.70,965.30 L390.80,963.97 L391.90,963.49 L393.00,963.30 L394.10,962.55 L395.20,962.18 L396.30,961.30 L397.30,960.58 L398.30,960.91 L399.30,960.51 L400.30,960.00 L401.43,958.69 L402.57,958.63 L403.70,958.00 L404.62,957.48 L405.54,957.10 L406.46,957.07 L407.38,957.18 L408.30,957.30 L409.30,956.85 L410.30,956.87 L411.30,956.65 L412.30,957.30 L413.43,957.48 L414.57,957.60 L415.70,958.00 L416.70,957.48 L417.70,956.78 L418.70,955.61 L419.70,955.30 L420.62,955.34 L421.54,953.56 L422.46,953.61 L423.38,952.91 L424.30,952.70 L425.30,952.72 L426.30,952.46 L427.30,953.61 L428.30,953.30 L429.43,953.49 L430.57,953.38 L431.70,954.40 L432.57,954.19 L433.43,953.10 L434.30,953.30 L435.43,953.73 L436.57,953.81 L437.70,954.40 L438.70,954.41 L439.70,954.84 L440.70,954.55 L441.70,954.00 L442.57,953.45 L443.43,953.57 L444.30,952.70 L445.20,953.10 L446.10,952.92 L447.00,953.30 L447.90,952.60 L448.80,953.03 L449.70,952.70 L450.57,952.56 L451.43,952.87 L452.30,952.00 L453.30,951.98 L454.30,950.80 L455.30,949.77 L456.30,949.30 L457.30,948.85 L458.30,946.60 L459.30,945.75 L460.30,945.30 L461.20,943.53 L462.10,941.73 L463.00,939.70 L464.00,939.77 L465.00,941.03 L466.00,941.97 L467.00,942.00 L467.90,940.93 L468.80,940.10 L469.70,939.30 L470.77,938.49 L471.85,938.16 L472.93,938.69 L474.00,937.60 L475.10,937.23 L476.20,937.85 L477.30,937.00 L478.20,937.91 L479.10,937.80 L480.00,938.00 L481.10,936.90 L482.20,937.14 L483.30,935.70 L484.43,934.23 L485.57,932.65 L486.70,931.30 L487.57,930.38 L488.43,930.64 L489.30,929.30 L490.30,926.96 L491.30,924.35 L492.30,922.29 L493.30,920.00 L494.43,917.47 L495.57,916.17 L496.70,914.00 L497.50,911.92 L498.30,910.00 L499.15,911.36 L500.00,913.30 L501.30,919.70 L502.43,921.53 L503.57,923.02 L504.70,924.00 L505.85,926.67 L507.00,930.70 L508.00,934.08 L509.00,937.05 L510.00,940.70 L511.00,940.96 L512.00,940.39 L513.00,939.29 L514.00,939.30 L515.00,939.32 L516.00,939.52 L517.00,941.03 L518.00,940.70 L519.00,940.41 L520.00,940.85 L521.00,940.66 L522.00,940.70 L523.00,941.75 L524.00,942.40 L525.00,941.35 L526.00,940.00 L527.00,940.42 L528.00,939.62 L529.00,940.59 L530.00,940.30 L531.00,939.70 L532.00,939.70 L533.00,939.10 L534.00,939.00 L535.06,938.86 L536.12,939.32 L537.18,939.37 L538.24,939.37 L539.30,939.70 L540.30,941.12 L541.30,941.98 L542.30,942.28 L543.30,944.00 L544.20,943.42 L545.10,943.47 L546.00,943.30 L546.90,945.22 L547.80,946.51 L548.70,947.30 L549.70,947.29 L550.70,946.47 L551.70,947.46 L552.70,947.00 L553.76,946.84 L554.82,946.99 L555.88,947.11 L556.94,946.95 L558.00,946.70 L558.90,946.21 L559.80,946.34 L560.70,945.30 L561.70,944.14 L562.70,943.15 L563.70,942.79 L564.70,941.30 L565.60,940.38 L566.50,940.02 L567.40,940.26 L568.30,939.30 L569.43,938.03 L570.57,938.44 L571.70,937.30 L572.70,936.77 L573.70,935.70 L575.00,934.70 L576.10,932.81 L577.20,930.80 L578.30,929.30 L579.20,930.59 L580.10,931.67 L581.00,932.00 L582.00,934.82 L583.00,938.62 L584.00,942.04 L585.00,945.30 L586.00,947.65 L587.00,949.76 L588.00,951.86 L589.00,954.70 L589.94,957.08 L590.88,959.66 L591.82,960.88 L592.76,963.36 L593.70,966.00 L594.70,968.95 L595.70,971.41 L596.70,973.73 L597.70,976.00 L598.57,977.77 L599.43,981.18 L600.30,983.30 L601.43,986.20 L602.57,988.46 L603.70,990.00 L604.70,992.11 L605.70,993.02 L606.70,995.95 L607.70,997.30 L608.80,997.81 L609.90,999.30 L611.00,1000.00 L611.90,1001.97 L612.80,1002.96 L613.70,1004.00 L614.70,1003.81 L615.70,1004.36 L616.70,1005.56 L617.70,1005.30 L618.62,1005.21 L619.54,1006.25 L620.46,1006.38 L621.38,1006.43 L622.30,1007.30 L623.20,1006.80 L624.10,1005.33 L625.00,1005.30 L626.00,1004.70 L627.00,1005.03 L628.00,1004.55 L629.00,1005.10 L630.00,1004.13 L631.00,1004.51 L632.00,1004.39 L633.00,1003.70 L634.10,1004.70 L635.20,1004.12 L636.30,1005.10 L637.43,1004.20 L638.57,1003.24 L639.70,1002.70 L640.76,1002.50 L641.82,1002.01 L642.88,1002.29 L643.94,1001.16 L645.00,1001.00 L646.00,1000.13 L647.00,1000.78 L648.00,999.76 L649.00,1000.00 L649,1044 Z" fill="url(#eg)"/></svg></div>
</body></html>
